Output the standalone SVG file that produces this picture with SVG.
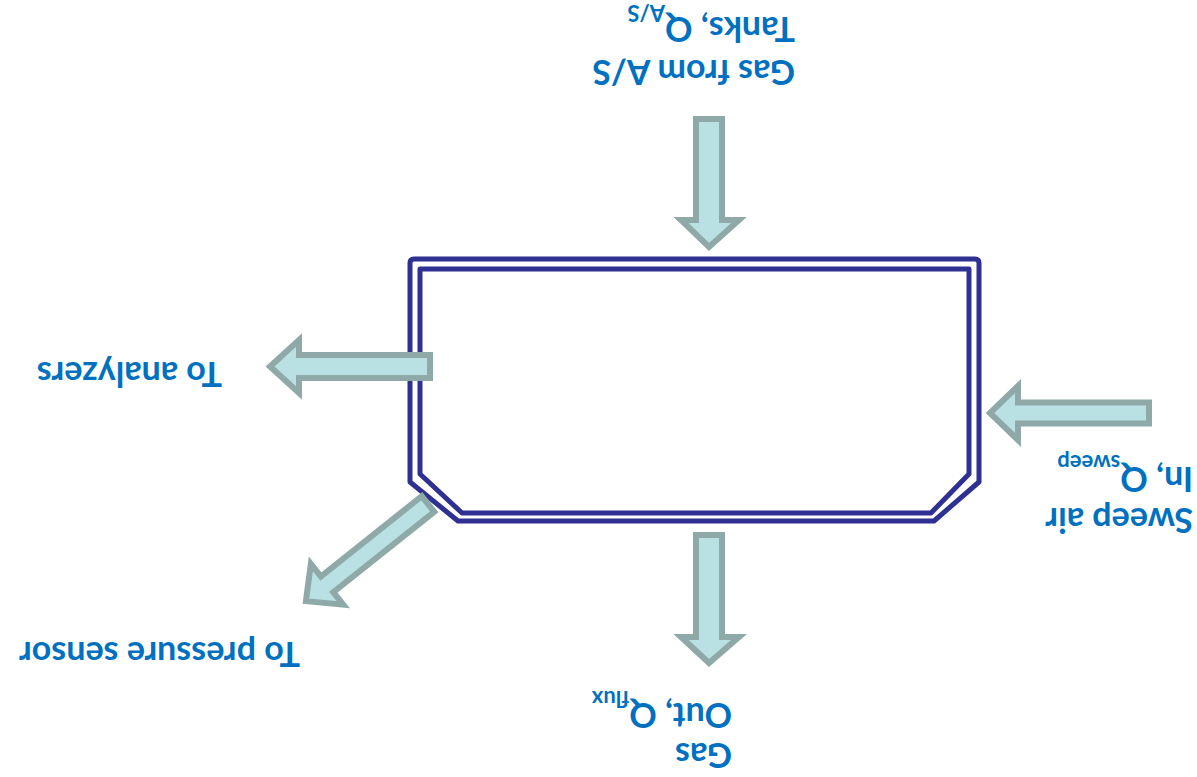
<svg xmlns="http://www.w3.org/2000/svg" width="1197" height="777" viewBox="0 0 1197 777">
  <style>
    .vessel { fill: none; stroke: #2e3192; stroke-width: 5; stroke-linejoin: round; }
    .flow { fill: #b9e0e3; stroke: #8fa9a9; stroke-width: 6; stroke-linejoin: miter; }
    .lbl { font-family: Lato, "Open Sans", sans-serif; font-weight: bold; font-size: 34px; fill: #0070c0; }
    .sub { font-size: 22px; }
  </style>
  <rect width="1197" height="777" fill="#ffffff"/>

  <!-- chamber: double-walled outline with chamfered lower corners -->
  <g id="chamber">
    <path class="vessel" d="M414,259 H975 Q979,259 979,263 V482 L934,521 H458 L410,482 V263 Q410,259 414,259 Z"/>
    <path class="vessel" d="M420,269 H969 V474 L931,513 H462 L420,474 Z"/>
  </g>

  <!-- block arrows for the gas streams -->
  <g id="connectors">
    <path id="inlet-as" class="flow" d="M696,119 H722 V220 H739 L709,247 L681,220 H696 Z"/>
    <path id="outlet-flux" class="flow" d="M696,535 H722 V637 H739 L709,663 L681,637 H696 Z"/>
    <path id="to-analyzers" class="flow" d="M430,355 V378 H299 V393 L270,366.5 L299,340 V355 Z"/>
    <path id="sweep-in" class="flow" d="M1149,402.5 V423.5 H1018 V440 L990,413 L1018,386 V402.5 Z"/>
    <path id="to-pressure" class="flow" transform="translate(428,504) rotate(141.5)" d="M0,-10 H129 V-26 L156,0 L129,26 V10 H0 Z"/>
  </g>

  <!-- labels; the whole sheet of text is turned half a revolution -->
  <g transform="rotate(180 598.5 388.5)">
    <g id="label-as">
      <text class="lbl" x="402" y="717">Gas from A/S</text>
      <text class="lbl" x="402" y="760">Tanks, Q<tspan class="sub" dy="12">A/S</tspan></text>
    </g>
    <g id="label-sweep">
      <text class="lbl" x="4" y="269">Sweep air</text>
      <text class="lbl" x="4" y="310">In, Q<tspan class="sub" dy="12">sweep</tspan></text>
    </g>
    <g id="label-flux">
      <text class="lbl" x="465" y="34">Gas</text>
      <text class="lbl" x="465" y="74">Out, Q<tspan class="sub" dy="12">flux</tspan></text>
    </g>
    <g id="label-analyzers">
      <text class="lbl" x="975" y="415">To analyzers</text>
    </g>
    <g id="label-pressure">
      <text class="lbl" x="897" y="135">To pressure sensor</text>
    </g>
  </g>
</svg>
